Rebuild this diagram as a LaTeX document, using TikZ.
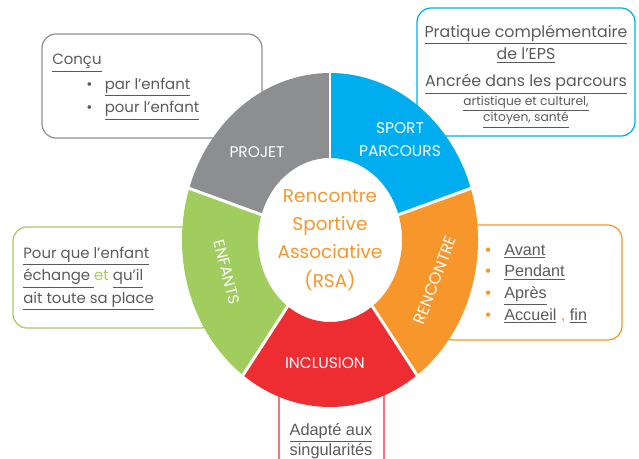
\documentclass[tikz,border=0pt]{standalone}
\usepackage{fontspec}
\setmainfont{Poppins}
\newfontfamily\arialfont{Liberation Sans}
\definecolor{projgray}{HTML}{8D8E90}
\definecolor{sportblue}{HTML}{00ADEE}
\definecolor{rencorange}{HTML}{F7962B}
\definecolor{inclred}{HTML}{EE2D32}
\definecolor{enfgreen}{HTML}{A1CC5E}
\definecolor{txtgray}{HTML}{5A5A5A}
\newcommand{\ulin}[1]{\underline{#1}}

\begin{document}
\begin{tikzpicture}[x=0.02cm, y=-0.02cm,
	boxline/.style={line width=0.7pt, rounded corners=0.28cm},
	boxtxt/.style={inner sep=0pt, text=txtgray},
	seglbl/.style={inner sep=0pt, text=white, font=\fontsize{8.8}{10}\selectfont}]
	\useasboundingbox (0,0) rectangle (639,459);

	\draw[boxline, draw=projgray] (42,34) rectangle (262,138);
	\draw[boxline, draw=sportblue] (417,8) rectangle (635,136);
	\draw[boxline, draw=enfgreen] (13,227) rectangle (215,328);
	\draw[boxline, draw=rencorange] (440,225) rectangle (622,340);
	\draw[boxline, draw=inclred] (279,360) rectangle (384,490);

	\begin{scope}[shift={(330,240)}, y=0.02cm]
		\foreach \a/\b/\c in {90/162/projgray, 18/90/sportblue, -54/18/rencorange, -126/-54/inclred, -198/-126/enfgreen}
			\fill[\c] (\a:148 and 167) arc[start angle=\a, end angle=\b, x radius=148, y radius=167]
				-- (\b:72 and 82) arc[start angle=\b, end angle=\a, x radius=72, y radius=82] -- cycle;
		\foreach \a in {90,18,-54,-126,162}
			\draw[white, line width=1.7pt] (\a:65 and 74) -- (\a:156 and 176);
	\end{scope}

	\node[seglbl] (projet) at (257,152) {PROJET};
	\node[seglbl, align=center, font=\fontsize{8.8}{13}\selectfont] (sport) at (400,140) {SPORT\\PARCOURS};
	\node[seglbl, rotate=-76] (enfants) at (227,272) {ENFANTS};
	\node[seglbl, rotate=69, font=\fontsize{9.2}{10}\selectfont] (rencontre) at (435,280) {RENCONTRE};
	\node[seglbl] (inclusion) at (325,363) {INCLUSION};
	\node[inner sep=0pt, align=center, text=rencorange, font=\fontsize{10.5}{16.2}\selectfont] (rsa) at (330,240)
		{Rencontre\\Sportive\\Associative\\(RSA)};

	\node[boxtxt, anchor=base west, font=\fontsize{8.5}{13.6}\selectfont] (concu) at (52,65) {\ulin{Conçu}};
	\node[boxtxt, anchor=base west, align=left, font=\fontsize{8.5}{13.6}\selectfont] (concuitems) at (86,113)
		{\textbullet\hspace{7pt}\ulin{par l’enfant}\\\textbullet\hspace{7pt}\ulin{pour l’enfant}};

	\node[boxtxt, anchor=base, align=center, font=\fontsize{9}{13}\selectfont] (eps) at (526,60)
		{\ulin{Pratique complémentaire}\\\ulin{de l’EPS}};
	\node[boxtxt, anchor=base, font=\fontsize{9}{13}\selectfont] (ancree) at (526,87) {\ulin{Ancrée dans les parcours}};
	\node[boxtxt, anchor=base, align=center, font=\fontsize{7}{9.6}\selectfont] (parcours) at (526,122)
		{\ulin{artistique et culturel,}\\\ulin{citoyen, santé}};

	\node[boxtxt, anchor=base west, align=left, font=\fontsize{8.5}{12.8}\selectfont] (echange) at (23,303)
		{\ulin{Pour que l’enfant}\\\ulin{échange }\textcolor{enfgreen}{et} \ulin{qu’il}\\\ulin{ait toute sa place}};

	\node[boxtxt, anchor=base west, align=left, font=\arialfont\fontsize{9.2}{12.3}\selectfont] (moments) at (485,320)
		{\textcolor{rencorange}{\textbullet}\hspace{7.6pt}\ulin{Avant}\\
		 \textcolor{rencorange}{\textbullet}\hspace{7.6pt}\ulin{Pendant}\\
		 \textcolor{rencorange}{\textbullet}\hspace{7.6pt}\ulin{Après}\\
		 \textcolor{rencorange}{\textbullet}\hspace{7.6pt}\ulin{Accueil} \textcolor{rencorange}{,} \ulin{fin}};

	\node[boxtxt, anchor=base, align=center, font=\arialfont\fontsize{9.3}{11.3}\selectfont] (singul) at (331,455)
		{\ulin{Adapté aux}\\\ulin{singularités}};
\end{tikzpicture}
\end{document}
